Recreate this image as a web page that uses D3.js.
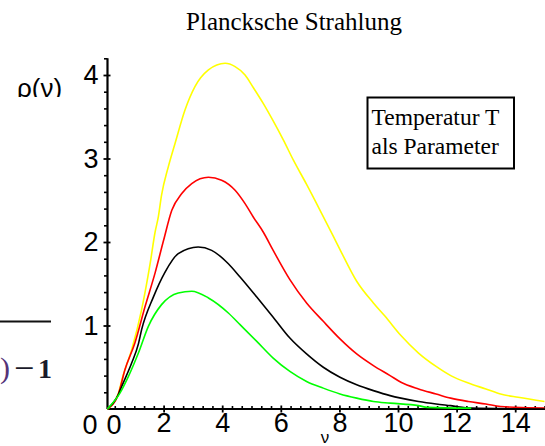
<!DOCTYPE html>
<html><head><meta charset="utf-8">
<script src="https://cdn.jsdelivr.net/npm/d3@7"></script>
<style>body{margin:0;background:#fff}svg{display:block}</style>
</head><body><svg id="c" width="545" height="446"></svg>
<script>
// ---- data ----
const titleText = "Plancksche Strahlung";
const yLabelText = "ρ(ν)";
const xLabelText = "ν";
const legendLines = ["Temperatur T", "als Parameter"];
const xTickValues = [2, 4, 6, 8, 10, 12, 14];
const yTickValues = [1, 2, 3, 4];
const seriesNames = ["T4", "T3", "T2", "T1"];

const nuT4  = [0.08, 0.45, 0.6, 0.91, 1.25, 1.54, 1.71, 1.82, 1.93, 2.16, 2.39, 2.73, 3.07, 3.53, 4.1, 4.44, 4.78, 5.06, 5.4, 5.74, 6.09, 6.43, 6.88, 7.34, 7.79, 8.02, 8.59, 9.16, 9.56, 10.1, 10.7, 11.3, 11.8, 12.4, 13.0, 13.5, 14.1, 15.0];
const rhoT4 = [0, 0.18, 0.38, 0.71, 1.19, 1.74, 2.12, 2.30, 2.56, 2.90, 3.18, 3.58, 3.86, 4.06, 4.14, 4.10, 4.00, 3.85, 3.66, 3.45, 3.22, 2.98, 2.69, 2.38, 2.07, 1.91, 1.53, 1.27, 1.11, 0.88, 0.67, 0.51, 0.40, 0.31, 0.24, 0.18, 0.14, 0.09];

const nuT3  = [0.08, 0.45, 0.68, 1.02, 1.37, 1.71, 2.0, 2.28, 2.62, 2.96, 3.53, 3.98, 4.44, 4.78, 5.06, 5.4, 5.74, 6.31, 6.88, 7.45, 8.02, 8.59, 9.16, 9.73, 10.1, 10.7, 11.3, 11.8, 12.4, 13.0, 13.5, 14.4, 15.0];
const rhoT3 = [0, 0.17, 0.47, 0.79, 1.23, 1.63, 2.02, 2.38, 2.58, 2.70, 2.775, 2.74, 2.62, 2.46, 2.30, 2.12, 1.90, 1.55, 1.27, 1.05, 0.84, 0.66, 0.52, 0.40, 0.32, 0.24, 0.18, 0.13, 0.09, 0.06, 0.03, 0.015, 0.01];

const nuT2  = [0.08, 0.45, 0.57, 0.91, 1.14, 1.25, 1.65, 2.05, 2.5, 3.18, 3.64, 4.21, 4.61, 5.18, 5.74, 6.31, 6.88, 7.45, 8.02, 8.59, 9.16, 9.73, 10.1, 10.7, 11.3, 11.8, 12.5, 15.0];
const rhoT2 = [0, 0.17, 0.27, 0.55, 0.78, 0.95, 1.34, 1.64, 1.86, 1.94, 1.90, 1.74, 1.58, 1.34, 1.10, 0.85, 0.66, 0.50, 0.38, 0.29, 0.22, 0.16, 0.13, 0.09, 0.06, 0.04, 0.01, 0.0];

const nuT1  = [0.08, 0.51, 0.8, 1.14, 1.48, 1.93, 2.5, 2.96, 3.53, 4.21, 4.61, 5.18, 5.74, 6.31, 6.88, 7.45, 8.02, 8.59, 9.16, 9.73, 10.7, 11.0, 12.5];
const rhoT1 = [0, 0.19, 0.39, 0.67, 0.99, 1.25, 1.39, 1.41, 1.33, 1.15, 1.01, 0.81, 0.61, 0.45, 0.33, 0.25, 0.18, 0.13, 0.09, 0.07, 0.04, 0.02, 0.01];

// ---- drawing ----
const svg = d3.select("#c");
const W = 545, H = 446;
const x = d3.scaleLinear().domain([0, 15]).range([105, 544.5]);
const y = d3.scaleLinear().domain([0, 4.2]).range([409, 58.3]);
const axisX = x(0.085);
const colors = {T4: "#ffff00", T3: "#ff0000", T2: "#000000", T1: "#00ff00"};
const series = [
  {name: seriesNames[0], nu: nuT4, rho: rhoT4},
  {name: seriesNames[1], nu: nuT3, rho: rhoT3},
  {name: seriesNames[2], nu: nuT2, rho: rhoT2},
  {name: seriesNames[3], nu: nuT1, rho: rhoT1}
];

const tickFont = "'Liberation Sans Narrow', 'Arial Narrow', 'Liberation Sans', Arial, sans-serif";

// left formula fragment
svg.append("line").attr("x1", 0).attr("x2", 51).attr("y1", 321.5).attr("y2", 321.5)
  .attr("stroke", "#111").attr("stroke-width", 2);
svg.append("text").attr("x", 0).attr("y", 378).attr("font-family", "'Liberation Serif', serif")
  .attr("font-size", 30).attr("fill", "#553377").text(")");
svg.append("text").attr("x", 14).attr("y", 380).attr("font-family", "'Liberation Serif', serif")
  .attr("font-size", 36).attr("fill", "#1a1a2a").text("−");
svg.append("text").attr("x", 38).attr("y", 378).attr("font-family", "'Liberation Serif', serif")
  .attr("font-size", 28).attr("font-weight", "bold").attr("fill", "#1a1a2a").text("1");

// title
svg.append("text").attr("x", 294).attr("y", 30).attr("text-anchor", "middle")
  .attr("font-family", "'Liberation Serif', 'Times New Roman', serif").attr("font-size", 25)
  .text(titleText);

// y label (clipped at bottom like the reference)
svg.append("clipPath").attr("id", "ylc").append("rect").attr("x", 0).attr("y", 60).attr("width", 80).attr("height", 37);
svg.append("text").attr("x", 17).attr("y", 97).attr("clip-path", "url(#ylc)")
  .attr("font-family", "'Liberation Sans', Arial, sans-serif").attr("font-size", 26)
  .text(yLabelText);

// legend box
const lg = svg.append("g");
lg.append("rect").attr("x", 367.5).attr("y", 97.5).attr("width", 146.5).attr("height", 71)
  .attr("fill", "#fff").attr("stroke", "#000").attr("stroke-width", 2);
lg.selectAll("text").data(legendLines).join("text")
  .attr("x", 371.5).attr("y", (d, i) => 125 + i * 28.5)
  .attr("font-family", "'Liberation Serif', 'Times New Roman', serif").attr("font-size", 23.5)
  .text(d => d);

// axes
const gx = svg.append("g").attr("transform", `translate(0,${y(0)})`);
const minorX = d3.range(1, 46).map(i => i / 3).filter(v => Math.abs(v - Math.round(v / 2) * 2) > 0.01 || v < 1);
gx.append("g").call(d3.axisBottom(x).tickValues(minorX).tickSize(-3).tickFormat(""))
  .call(g => g.select(".domain").remove())
  .selectAll("line").attr("stroke-width", 1.6);
const gxMaj = gx.append("g").call(d3.axisBottom(x).tickValues(xTickValues).tickSize(3.5).tickPadding(6).tickFormat(d3.format("d")))
  .call(g => g.select(".domain").remove());
gxMaj.selectAll("line").attr("y1", -3.5).attr("stroke-width", 1.8);
gxMaj.selectAll("text").attr("font-family", tickFont).attr("font-size", 27).attr("fill", "#000").attr("dy", "0.71em").attr("y", 4);
gx.append("line").attr("x1", axisX).attr("x2", W).attr("y1", 0).attr("y2", 0).attr("stroke", "#000").attr("stroke-width", 2.2);

const gy = svg.append("g").attr("transform", `translate(${axisX},0)`);
const minorY = d3.range(1, 22).map(i => +(i * 0.2).toFixed(2)).filter(v => Math.abs(v - Math.round(v)) > 0.01);
gy.append("g").call(d3.axisLeft(y).tickValues(minorY).tickSize(3.5).tickFormat(""))
  .call(g => g.select(".domain").remove())
  .selectAll("line").attr("stroke-width", 1.6);
const gyMaj = gy.append("g").call(d3.axisLeft(y).tickValues(yTickValues).tickSize(4).tickPadding(6).tickFormat(d3.format("d")))
  .call(g => g.select(".domain").remove());
gyMaj.selectAll("line").attr("x1", 3).attr("stroke-width", 1.8);
gyMaj.selectAll("text").attr("font-family", tickFont).attr("font-size", 27).attr("fill", "#000").attr("x", -9);
gy.append("line").attr("x1", 0).attr("x2", 0).attr("y1", y(0)).attr("y2", y(4.2)).attr("stroke", "#000").attr("stroke-width", 2.2);

// the two zero labels
svg.append("text").attr("x", 97.5).attr("y", y(0) + 6).attr("dy", "0.71em").attr("text-anchor", "end")
  .attr("font-family", tickFont).attr("font-size", 27).text(d3.format("d")(y.domain()[0]));
svg.append("text").attr("x", 106.5).attr("y", y(0) + 6).attr("dy", "0.71em").attr("text-anchor", "start")
  .attr("font-family", tickFont).attr("font-size", 27).text(d3.format("d")(x.domain()[0]));

// x label
svg.append("text").attr("x", 325).attr("y", 443).attr("text-anchor", "middle")
  .attr("font-family", "'Liberation Sans', Arial, sans-serif").attr("font-size", 17).text(xLabelText);

// curves
const line = d3.line().x(d => x(d[0])).y(d => y(d[1])).curve(d3.curveMonotoneX);
svg.append("g").selectAll("path").data(series).join("path")
  .attr("d", s => line(s.nu.map((v, i) => [v, s.rho[i]])))
  .attr("fill", "none").attr("stroke", s => colors[s.name]).attr("stroke-width", 1.6);
</script></body></html>
